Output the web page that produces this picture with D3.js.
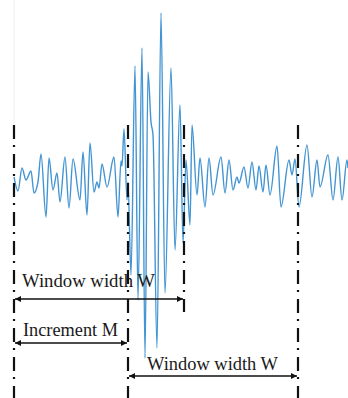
<!DOCTYPE html>
<html>
<head>
<meta charset="utf-8">
<script src="https://cdn.jsdelivr.net/npm/d3@7"></script>
<style>
  html, body { margin: 0; padding: 0; background: #fff; }
  svg { display: block; }
</style>
</head>
<body>
<div id="chart"></div>
<script>
// signal extrema (time index, amplitude)
const sigT = [0, 4, 8, 12, 17, 20, 24, 27, 32, 35, 39, 43, 46, 51, 55, 59, 66, 69, 73, 76,
  80, 83, 85, 88, 93, 100, 104, 107, 108, 110, 113, 114, 117, 121, 124, 128, 131, 134, 137, 139,
  143, 147, 151, 157, 161, 166, 169, 172, 176, 178, 183, 186, 191, 195, 199, 207, 211, 215, 219, 223,
  225, 230, 234, 238, 242, 245, 249, 252, 256, 263, 267, 275, 278, 281, 285, 293, 298, 303, 306, 314,
  319, 324, 328, 333, 334];
const sigA = [0.3, -1.1, 1.2, 0, 0.9, -1.3, -0.2, 2.6, -3.7, 2.2, -1.0, 0.7, -2.2, 2.3, -2.8, 2.1, -2.0, 2.8, -3.5, 3.7,
  -1.2, -0.2, -0.8, 1.6, -0.7, 2.3, -3.7, 1.9, 1.4, 5.1, -2.0, -0.2, -9.5, 11.4, -12.0, 13.2, -17.8, 10.8, 5.8, 4.5,
  -16.8, 16.7, -11.3, 11.2, -7.0, 7.5, -6.3, 2.0, -4.5, 5.5, -1.5, 2.2, -2.7, 2.2, -1.5, 2.3, -1.3, 2.0, -1.0, 0.3,
  -0.3, 1.3, -0.8, 1.8, -1.0, 1.4, -1.2, 1.5, -1.5, 3.4, -2.7, 2.0, 0.5, 2.1, -2.7, 3.5, -1.7, 2.0, -0.7, 2.5,
  -2.0, 2.3, -2.0, 2.0, 1.2];

// window boundaries (time index)
const boundT = [0, 114, 170, 284];
const boundLong = [true, true, false, true];

// spans drawn as double arrows
const spanFrom = [0, 0, 114];
const spanTo = [170, 114, 284];
const spanLabel = ['Window width W', 'Increment M', 'Window width W'];

const width = 348, height = 398;

const svg = d3.select('#chart').append('svg')
  .attr('width', width)
  .attr('height', height);

const x = d3.scaleLinear().domain([0, 334]).range([14, 348]);
const y = d3.scaleLinear().domain([-20, 20]).range([380, -20]);

const defs = svg.append('defs');
['start', 'end'].forEach(k => {
  defs.append('marker')
    .attr('id', 'arr-' + k)
    .attr('viewBox', '0 0 10 10')
    .attr('refX', k === 'end' ? 10 : 0)
    .attr('refY', 5)
    .attr('markerWidth', 7)
    .attr('markerHeight', 6)
    .attr('markerUnits', 'userSpaceOnUse')
    .attr('orient', 'auto')
    .append('path')
    .attr('d', k === 'end' ? 'M0,0L10,5L0,10Z' : 'M10,0L0,5L10,10Z')
    .attr('fill', '#111');
});

// faint guide above the first boundary
svg.append('line')
  .attr('x1', x(0)).attr('x2', x(0))
  .attr('y1', 0).attr('y2', 125)
  .attr('stroke', '#f0f0f0')
  .attr('stroke-width', 1);

// waveform
const pts = sigT.map((t, i) => [t, sigA[i]]);
const line = d3.line()
  .x(d => x(d[0]))
  .y(d => y(d[1]))
  .curve(d3.curveMonotoneX);

svg.append('path')
  .datum(pts)
  .attr('d', line)
  .attr('fill', 'none')
  .attr('stroke', '#4394d2')
  .attr('stroke-width', 1.4)
  .attr('stroke-linejoin', 'round');

// dash-dot window boundaries
svg.selectAll('line.bound')
  .data(boundT)
  .join('line')
  .attr('class', 'bound')
  .attr('x1', d => x(d)).attr('x2', d => x(d))
  .attr('y1', 125)
  .attr('y2', (d, i) => boundLong[i] ? 398 : 312)
  .attr('stroke', '#111')
  .attr('stroke-width', 2.2)
  .attr('stroke-dasharray', '14,6,2,7');

// arrows + labels
const arrowY = [299, 343, 376];
const labelX = [22, 23, 147];
const labelY = [287, 336, 370];
const labelW = [133, 95, 131];

svg.selectAll('line.span')
  .data(spanFrom)
  .join('line')
  .attr('class', 'span')
  .attr('x1', d => x(d) + 1)
  .attr('x2', (d, i) => x(spanTo[i]) - 1)
  .attr('y1', (d, i) => arrowY[i])
  .attr('y2', (d, i) => arrowY[i])
  .attr('stroke', '#111')
  .attr('stroke-width', 1.5)
  .attr('marker-start', 'url(#arr-start)')
  .attr('marker-end', 'url(#arr-end)');

svg.selectAll('text.lbl')
  .data(spanLabel)
  .join('text')
  .attr('class', 'lbl')
  .attr('x', (d, i) => labelX[i])
  .attr('y', (d, i) => labelY[i])
  .attr('textLength', (d, i) => labelW[i])
  .attr('lengthAdjust', 'spacingAndGlyphs')
  .style('font-family', '"Liberation Serif", "DejaVu Serif", serif')
  .style('font-size', '18px')
  .style('fill', '#1a1a1a')
  .text(d => d);
</script>
</body>
</html>
